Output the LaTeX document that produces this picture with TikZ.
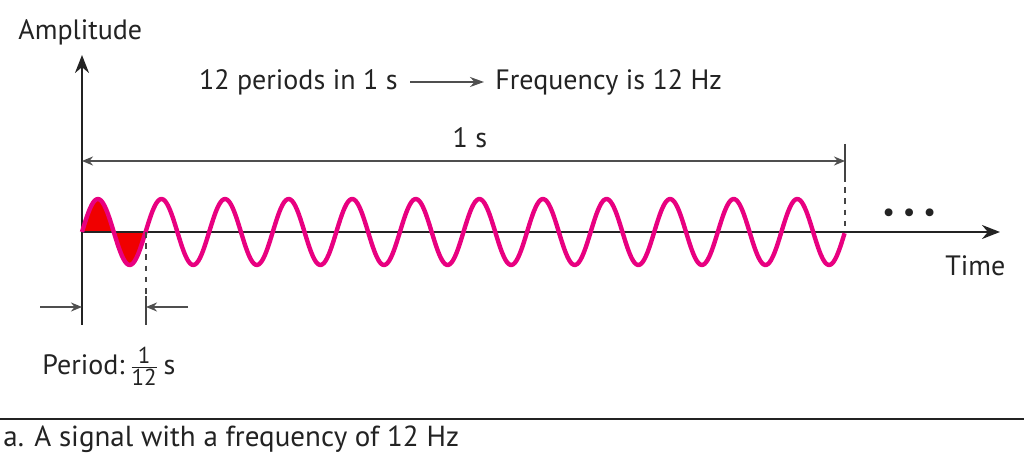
\documentclass[tikz,border=0pt]{standalone}
\usepackage{fontspec}
\setmainfont{PT Sans}
\usetikzlibrary{arrows.meta}
\definecolor{wave}{RGB}{232,0,128}
\definecolor{lobe}{RGB}{240,0,0}
\definecolor{ink}{RGB}{35,35,35}
\begin{document}
\begin{tikzpicture}[x=0.5pt,y=-0.5pt,
  lbl/.style={inner sep=0pt,text=ink,font=\fontsize{14}{16}\selectfont},
  axisline/.style={draw=ink,line width=1.1pt,-{Stealth[length=9pt,width=7pt]}},
  dimline/.style={draw=ink!80,line width=0.9pt,-{Stealth[length=5.5pt,width=4.5pt]}},
  guide/.style={draw=ink!85,line width=0.9pt},
  guidedash/.style={guide,dash pattern=on 2.8pt off 2.8pt}]
\useasboundingbox (0,0) rectangle (1024,464);
% key points
\coordinate (O) at (82,232);
\coordinate (ytop) at (82,55);
\coordinate (ybot) at (82,325);
\coordinate (xend) at (1000,232);
\coordinate (p1) at (146,232);
\coordinate (p1s) at (146,296);
\coordinate (p1b) at (146,325);
\coordinate (e12) at (845,232);
\coordinate (e12s) at (845,176);
\coordinate (e12t) at (845,144);
\coordinate (dimL) at (82,161);
\coordinate (dimR) at (845,161);
\coordinate (perL) at (40,307);
\coordinate (perLe) at (82,307);
\coordinate (perR) at (188,307);
\coordinate (perRe) at (146,307);
\coordinate (fa) at (410,82);
\coordinate (fb) at (484,82);
\coordinate (ruleL) at (0,419);
\coordinate (ruleR) at (1024,419);
% first period fill
\fill[lobe] plot[domain=0:1,samples=60,smooth] ({82+63.58*\x},{232-33*sin(360*\x)}) -- cycle;
% axes
\draw[axisline] (ybot) -- (ytop);
\draw[axisline] (O) -- (xend);
% wave
\draw[wave,line width=2.2pt,line join=round] plot[domain=0:12,samples=480,smooth] ({82+63.58*\x},{232-33*sin(360*\x)});
% guides
\draw[guidedash] (p1) -- (p1s);
\draw[guide] (p1s) -- (p1b);
\draw[guide] (e12t) -- (e12s);
\draw[guidedash] (e12s) -- (e12);
% dimensions
\draw[dimline,{Stealth[length=5.5pt,width=4.5pt]}-{Stealth[length=5.5pt,width=4.5pt]}] (dimL) -- (dimR);
\draw[dimline] (perL) -- (perLe);
\draw[dimline] (perR) -- (perRe);
\draw[dimline,line width=0.9pt,-{Stealth[length=7pt,width=5pt]}] (fa) -- (fb);
% texts
\node[lbl,anchor=base west] (amp) at (18,40) {Amplitude};
\node[lbl,anchor=base east] (per) at (398,90) {12 periods in 1 s};
\node[lbl,anchor=base west] (freq) at (495,90) {Frequency is 12 Hz};
\node[lbl,anchor=base] (ones) at (470,148) {1 s};
\node[lbl,anchor=base west] (time) at (945,276) {Time};
\node[lbl,anchor=base west] (dots) at (882,222) {\textbullet\;\textbullet\;\textbullet};
\node[lbl,anchor=west] (period) at (42,366) {Period:\,$\frac{\mbox{\fontsize{11.5}{12}\selectfont 1}}{\mbox{\fontsize{11.5}{12}\selectfont 12}}$\,s};
\draw[draw=ink,line width=1.2pt] (ruleL) -- (ruleR);
\node[lbl,anchor=base west,font=\fontsize{14.5}{16}\selectfont] (cap) at (3,447) {a. A signal with a frequency of 12 Hz};
\end{tikzpicture}
\end{document}
